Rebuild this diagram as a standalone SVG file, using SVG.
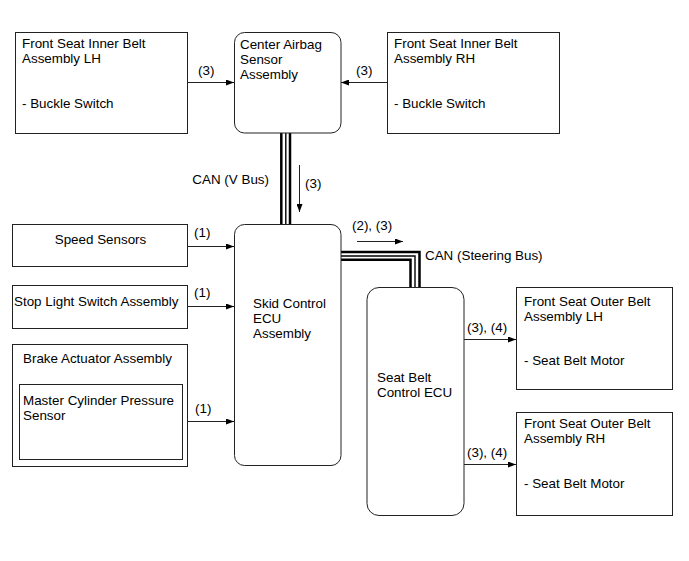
<svg xmlns="http://www.w3.org/2000/svg" width="689" height="561" viewBox="0 0 689 561">
<style>
text{font-family:"Liberation Sans",Arial,sans-serif;font-size:13.4px;fill:#000}
.box{fill:#fff;stroke:#222;stroke-width:1}
.ln{fill:none;stroke:#222;stroke-width:1}
.bus{fill:none;stroke:#000}
</style>
<defs>
<marker id="ah" markerUnits="userSpaceOnUse" markerWidth="8" markerHeight="6" viewBox="0 0 8 6" refX="8" refY="3" orient="auto">
<path d="M0,0 L8,3 L0,6 z" fill="#000"/>
</marker>
</defs>
<rect width="689" height="561" fill="#fff"/>
<g id="connectors">
<line class="ln" x1="188" y1="82.5" x2="234" y2="82.5" marker-end="url(#ah)"/>
<line class="ln" x1="387" y1="82.5" x2="341" y2="82.5" marker-end="url(#ah)"/>
<line class="ln" x1="188" y1="246.5" x2="234" y2="246.5" marker-end="url(#ah)"/>
<line class="ln" x1="188" y1="306.5" x2="234" y2="306.5" marker-end="url(#ah)"/>
<line class="ln" x1="182" y1="421.5" x2="234" y2="421.5" marker-end="url(#ah)"/>
<line class="ln" x1="464" y1="339.5" x2="516" y2="339.5" marker-end="url(#ah)"/>
<line class="ln" x1="464" y1="464.5" x2="516" y2="464.5" marker-end="url(#ah)"/>
<line class="ln" x1="299.5" y1="165" x2="299.5" y2="212" marker-end="url(#ah)"/>
<line class="ln" x1="357" y1="241.5" x2="403" y2="241.5" marker-end="url(#ah)"/>
<line class="bus" x1="281.3" y1="133" x2="281.3" y2="224" stroke-width="2.5"/>
<line class="bus" x1="285.8" y1="133" x2="285.8" y2="224" stroke-width="1.4"/>
<line class="bus" x1="290" y1="133" x2="290" y2="224" stroke-width="2.5"/>
<path class="bus" d="M341,252 H419.5 V287" stroke-width="2.5"/>
<path class="bus" d="M341,256 H415 V287" stroke-width="1.4"/>
<path class="bus" d="M341,259.7 H410.5 V287" stroke-width="2.5"/>
<text x="198" y="75">(3)</text>
<text x="356" y="75">(3)</text>
<text x="194" y="237">(1)</text>
<text x="194" y="297">(1)</text>
<text x="195" y="413">(1)</text>
<text x="467" y="332">(3), (4)</text>
<text x="467" y="457">(3), (4)</text>
<text x="305" y="188">(3)</text>
<text x="352" y="230">(2), (3)</text>
<text x="269" y="184" text-anchor="end">CAN (V Bus)</text>
<text x="425" y="260">CAN (Steering Bus)</text>
</g>
<g id="inner-lh">
<rect class="box" x="15.5" y="32.5" width="172" height="101"/>
<text x="22" y="48">Front Seat Inner Belt</text>
<text x="22" y="63">Assembly LH</text>
<text x="22" y="108">- Buckle Switch</text>
</g>
<g id="airbag">
<rect class="box" x="234.5" y="32.5" width="106.5" height="100.5" rx="10"/>
<text x="240" y="49">Center Airbag</text>
<text x="240" y="64">Sensor</text>
<text x="240" y="79">Assembly</text>
</g>
<g id="inner-rh">
<rect class="box" x="387.5" y="32.5" width="172" height="101"/>
<text x="394" y="48">Front Seat Inner Belt</text>
<text x="394" y="63">Assembly RH</text>
<text x="394" y="108">- Buckle Switch</text>
</g>
<g id="speed">
<rect class="box" x="12.5" y="224.5" width="175" height="42"/>
<text x="100.5" y="244" text-anchor="middle">Speed Sensors</text>
</g>
<g id="stop">
<rect class="box" x="12.5" y="285.5" width="175" height="43"/>
<text x="14" y="306">Stop Light Switch Assembly</text>
</g>
<g id="brake">
<rect class="box" x="12.5" y="344.5" width="175" height="122"/>
<text x="23" y="363">Brake Actuator Assembly</text>
<g id="master">
<rect class="box" x="19.5" y="384.5" width="163" height="75"/>
<text x="23" y="405">Master Cylinder Pressure</text>
<text x="23" y="420">Sensor</text>
</g>
</g>
<g id="skid">
<rect class="box" x="234.5" y="224.5" width="106.5" height="241" rx="10"/>
<text x="253" y="308">Skid Control</text>
<text x="253" y="323">ECU</text>
<text x="253" y="338">Assembly</text>
</g>
<g id="seatbelt-ecu">
<rect class="box" x="367" y="287.5" width="97" height="228" rx="12"/>
<text x="377" y="382">Seat Belt</text>
<text x="377" y="397">Control ECU</text>
</g>
<g id="outer-lh">
<rect class="box" x="516.5" y="287.5" width="156" height="102"/>
<text x="524" y="306">Front Seat Outer Belt</text>
<text x="524" y="321">Assembly LH</text>
<text x="524" y="365">- Seat Belt Motor</text>
</g>
<g id="outer-rh">
<rect class="box" x="516.5" y="412.5" width="156" height="103"/>
<text x="524" y="428">Front Seat Outer Belt</text>
<text x="524" y="443">Assembly RH</text>
<text x="524" y="488">- Seat Belt Motor</text>
</g>
</svg>
